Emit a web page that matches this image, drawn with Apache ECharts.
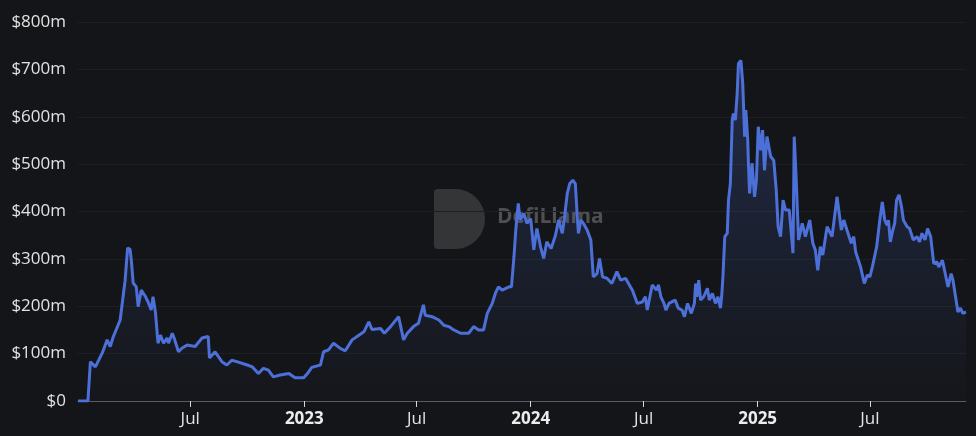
<!DOCTYPE html>
<html>
<head>
<meta charset="utf-8">
<script src="https://cdn.jsdelivr.net/npm/echarts@6/dist/echarts.min.js"></script>
<style>
  html, body { margin: 0; padding: 0; background: #141518; }
  #chart { width: 976px; height: 436px; }
</style>
</head>
<body>
<div id="chart"></div>
<script>
const dates = [
  '2022-01-01','2022-01-17','2022-01-21','2022-01-29','2022-02-09','2022-02-17','2022-02-22','2022-02-27',
  '2022-03-10','2022-03-18','2022-03-22','2022-03-26','2022-03-28','2022-03-31','2022-04-05','2022-04-08',
  '2022-04-13','2022-04-20','2022-04-24','2022-04-29','2022-05-02','2022-05-06','2022-05-10','2022-05-14',
  '2022-05-19','2022-05-25','2022-05-27','2022-06-02','2022-06-05','2022-06-12','2022-06-18','2022-06-26',
  '2022-07-09','2022-07-20','2022-07-30','2022-08-01','2022-08-10','2022-08-21','2022-08-29','2022-09-06',
  '2022-09-14','2022-10-01','2022-10-09','2022-10-19','2022-10-27','2022-11-04','2022-11-12','2022-11-23',
  '2022-12-07','2022-12-17','2022-12-31',
  '2023-01-06','2023-01-13','2023-01-27','2023-02-01','2023-02-09','2023-02-17','2023-02-28','2023-03-08',
  '2023-03-19','2023-03-30','2023-04-07','2023-04-15','2023-04-20','2023-05-04','2023-05-10','2023-05-20',
  '2023-06-02','2023-06-10','2023-06-16','2023-06-26','2023-07-04','2023-07-12','2023-07-15','2023-07-26',
  '2023-08-06','2023-08-14','2023-08-22','2023-08-30','2023-09-10','2023-09-23','2023-10-01','2023-10-09',
  '2023-10-17','2023-10-23','2023-10-31','2023-11-05','2023-11-10','2023-11-16','2023-11-27','2023-12-01',
  '2023-12-05','2023-12-08','2023-12-12','2023-12-15','2023-12-21','2023-12-26',
  '2024-01-01','2024-01-06','2024-01-11','2024-01-17','2024-01-22','2024-01-27','2024-02-03','2024-02-10',
  '2024-02-15','2024-02-21','2024-02-24','2024-02-29','2024-03-04','2024-03-09','2024-03-13','2024-03-16',
  '2024-03-18','2024-03-22','2024-03-26','2024-04-01','2024-04-03','2024-04-07','2024-04-11','2024-04-17',
  '2024-04-21','2024-04-26','2024-05-03','2024-05-11','2024-05-19','2024-05-25','2024-06-02','2024-06-05',
  '2024-06-13','2024-06-21','2024-06-29','2024-07-04','2024-07-07','2024-07-15','2024-07-22','2024-07-25',
  '2024-07-29','2024-08-03','2024-08-06','2024-08-11','2024-08-21','2024-08-26','2024-09-01','2024-09-05',
  '2024-09-10','2024-09-16','2024-09-21','2024-09-23','2024-09-25','2024-09-28','2024-10-01','2024-10-06',
  '2024-10-12','2024-10-15','2024-10-20','2024-10-25','2024-10-29','2024-11-02','2024-11-04','2024-11-06',
  '2024-11-09','2024-11-13','2024-11-15','2024-11-18','2024-11-21','2024-11-23','2024-11-26','2024-11-29',
  '2024-12-01','2024-12-05','2024-12-08','2024-12-11','2024-12-13','2024-12-16','2024-12-17','2024-12-19',
  '2024-12-23','2024-12-27','2024-12-30',
  '2025-01-02','2025-01-06','2025-01-09','2025-01-12','2025-01-16','2025-01-22','2025-01-27','2025-01-31',
  '2025-02-03','2025-02-07','2025-02-11','2025-02-15','2025-02-21','2025-02-27','2025-03-01','2025-03-04',
  '2025-03-08','2025-03-14','2025-03-19','2025-03-26','2025-03-31','2025-04-04','2025-04-08','2025-04-12',
  '2025-04-16','2025-04-23','2025-05-01','2025-05-09','2025-05-16','2025-05-20','2025-05-25','2025-06-01',
  '2025-06-05','2025-06-08','2025-06-16','2025-06-22','2025-06-27','2025-07-01','2025-07-05','2025-07-12',
  '2025-07-17','2025-07-21','2025-07-25','2025-07-29','2025-07-31','2025-08-03','2025-08-07','2025-08-10',
  '2025-08-13','2025-08-17','2025-08-21','2025-08-24','2025-08-30','2025-09-03','2025-09-09','2025-09-15',
  '2025-09-19','2025-09-23','2025-09-28','2025-10-02','2025-10-07','2025-10-12','2025-10-17','2025-10-20',
  '2025-10-26','2025-11-04','2025-11-09','2025-11-12','2025-11-20','2025-11-24','2025-11-28','2025-12-03'
];

// Values in millions of USD
const values = [
  0,0,83,72,101,129,115,136,
  171,255,323,320,297,249,241,199,
  234,220,209,192,220,186,122,139,
  122,133,122,143,133,104,112,118,
  115,133,136,91,104,83,76,86,
  83,76,72,58,69,65,51,55,
  58,49,49,
  58,71,76,104,108,122,111,106,
  129,139,146,167,151,153,143,157,
  178,129,143,157,164,203,181,178,
  171,160,157,150,143,143,157,150,
  150,185,206,227,241,234,241,241,
  304,361,417,382,396,375,
  385,319,364,325,301,336,322,350,
  382,354,382,438,459,466,459,392,
  354,382,375,361,354,340,262,269,
  301,262,259,248,273,255,259,255,
  234,206,209,220,192,245,234,245,
  220,206,192,206,213,196,192,178,
  206,185,206,248,220,255,213,220,
  238,213,227,206,220,196,220,262,
  347,354,424,459,593,607,593,649,
  712,719,670,558,614,551,508,438,
  502,431,466,
  579,529,572,487,558,516,508,445,
  368,347,424,403,403,312,558,473,
  340,375,347,382,333,319,276,326,
  308,368,347,431,361,382,361,333,
  347,315,283,248,266,262,283,326,
  382,420,382,371,382,336,361,375,
  424,435,410,382,368,364,340,347,
  336,354,340,364,347,290,294,283,
  297,241,269,255,188,196,185,188
];

// Axis tick labels
const xTickDates = ['2022-07-01','2023-01-01','2023-07-01','2024-01-01','2024-07-01','2025-01-01','2025-07-01'];
const yTicks = [0, 100, 200, 300, 400, 500, 600, 700, 800];

const toTs = s => new Date(s + 'T00:00:00').getTime();
const seriesData = dates.map((d, i) => [toTs(d), values[i]]);
const xTickValues = xTickDates.map(toTs);
const xMin = toTs(dates[0]);
const xMax = toTs(dates[dates.length - 1]);

const chart = echarts.init(document.getElementById('chart'), null, { renderer: 'canvas' });
const lineColor = '#4c70d8';
const fontFam = '"Open Sans", "Noto Sans", sans-serif';

chart.setOption({
  backgroundColor: '#141518',
  animation: false,
  grid: { left: 78, right: 10, top: 22, bottom: 35, containLabel: false, outerBoundsMode: 'none' },
  xAxis: {
    type: 'value',
    min: xMin,
    max: xMax,
    axisLine: { show: true, onZero: false, lineStyle: { color: '#5a5c63', width: 1 } },
    axisTick: { show: true, customValues: xTickValues, length: 6, lineStyle: { color: '#d8d8d8', width: 1 } },
    axisLabel: {
      customValues: xTickValues,
      margin: 10,
      color: '#e2e2e2',
      fontSize: 17,
      fontFamily: fontFam,
      formatter: function (val) {
        const d = new Date(val);
        if (d.getMonth() === 0) return '{yr|' + d.getFullYear() + '}';
        return 'Jul';
      },
      rich: { yr: { fontWeight: 'bold', fontSize: 17, color: '#ececec', fontFamily: fontFam } }
    },
    splitLine: { show: false }
  },
  yAxis: {
    type: 'value',
    min: yTicks[0],
    max: yTicks[yTicks.length - 1],
    interval: 100,
    axisLine: { show: false },
    axisTick: { show: false },
    axisLabel: {
      color: '#e2e2e2',
      fontSize: 17,
      margin: 12,
      fontFamily: fontFam,
      formatter: v => v === 0 ? '$0' : '$' + v + 'm'
    },
    splitLine: { show: true, lineStyle: { color: '#1e1f24', width: 1 } }
  },
  graphic: [
    {
      type: 'rect',
      left: 434, top: 189, z: 0,
      shape: { width: 51, height: 60, r: [4, 30, 30, 4] },
      style: { fill: 'rgba(130,130,130,0.30)' }
    },
    {
      type: 'text',
      left: 497, top: 207, z: 0,
      style: { text: 'DefiLlama', fill: 'rgba(150,150,150,0.45)', font: 'bold 21px "Open Sans", sans-serif' }
    }
  ],
  series: [{
    type: 'line',
    data: seriesData,
    showSymbol: false,
    symbol: 'none',
    smooth: false,
    z: 3,
    lineStyle: { color: lineColor, width: 3 },
    areaStyle: {
      color: new echarts.graphic.LinearGradient(0, 0, 0, 1, [
        { offset: 0, color: 'rgba(76,112,216,0.36)' },
        { offset: 1, color: 'rgba(76,112,216,0.02)' }
      ])
    }
  }]
});
</script>
</body>
</html>
